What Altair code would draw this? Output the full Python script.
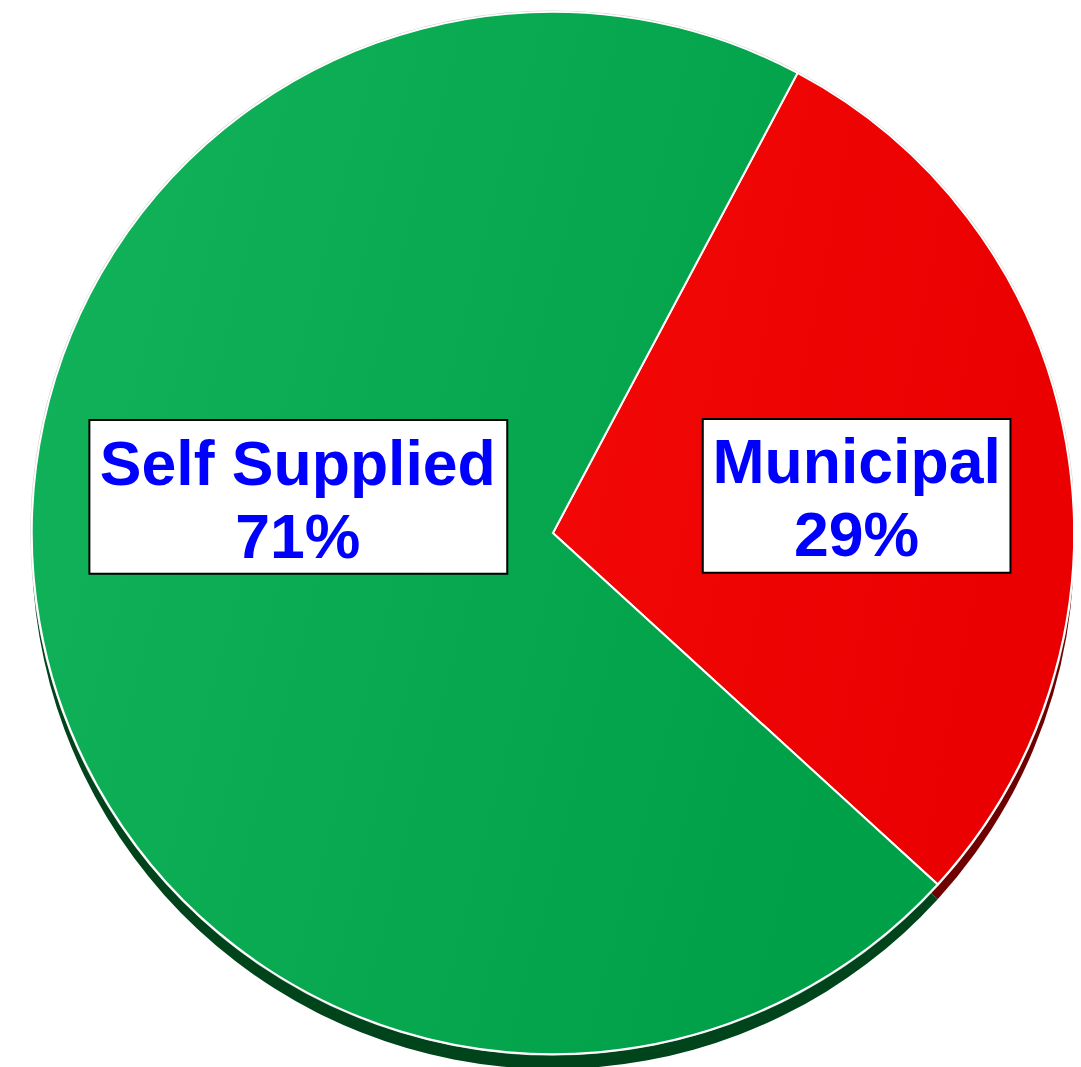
import math
import altair as alt
import pandas as pd

# ---- data ----
categories = ["Municipal", "Self Supplied"]
shares = [29, 71]
slice_order = [0, 1]

face_left = {"Municipal": "#f40808", "Self Supplied": "#12b35a"}
face_right = {"Municipal": "#ea0000", "Self Supplied": "#00a049"}
rim_colors = {"Municipal": "#700000", "Self Supplied": "#00441c"}

df = pd.DataFrame({"category": categories, "share": shares, "order": slice_order})

CX, CY, R = 549, 525, 525
START = math.radians(28)
theta_scale = alt.Scale(domain=[0, 1], range=[START, START + 2 * math.pi])

base = (
    alt.Chart(df)
    .transform_joinaggregate(total="sum(share)")
    .transform_window(cum="sum(share)", sort=[alt.SortField("order")], frame=[None, 0])
    .transform_calculate(
        t1="datum.cum / datum.total",
        t0="(datum.cum - datum.share) / datum.total",
        label="[datum.category, datum.share + '%']",
    )
)

def grad(c0, c1):
    return {
        "gradient": "linear", "x1": 0, "x2": 1, "y1": 0, "y2": 0.3,
        "stops": [{"offset": 0, "color": c0}, {"offset": 1, "color": c1}],
    }

layers = []
# 3D rim
for c in categories:
    layers.append(
        base.transform_filter(alt.datum.category == c)
        .mark_arc(radius=R, color=rim_colors[c])
        .encode(theta=alt.Theta("t0:Q", scale=theta_scale), theta2="t1:Q",
                x=alt.value(CX), y=alt.value(CY + 15))
    )
# outer gray outline
layers.append(
    base.transform_filter(alt.datum.order == 0)
    .mark_arc(radius=R + 1.5, theta=0, theta2=2 * math.pi, color="#cccccc")
    .encode(x=alt.value(CX), y=alt.value(CY))
)
# faces
for c in categories:
    layers.append(
        base.transform_filter(alt.datum.category == c)
        .mark_arc(radius=R, color=grad(face_left[c], face_right[c]),
                  stroke="white", strokeWidth=2)
        .encode(theta=alt.Theta("t0:Q", scale=theta_scale), theta2="t1:Q",
                x=alt.value(CX), y=alt.value(CY))
    )

# label boxes and text (page coords minus 8px margin)
boxes = {
    "Self Supplied": (82, 503, 411, 566, 292, 477),
    "Municipal": (700, 1010, 410, 565, 855, 475),
}
for c, (x0, x1, y0, y1, tx, ty) in boxes.items():
    sub = base.transform_filter(alt.datum.category == c)
    layers.append(
        sub.mark_rect(fill="white", stroke="black", strokeWidth=2)
        .encode(x=alt.value(x0), x2=alt.value(x1), y=alt.value(y0), y2=alt.value(y1))
    )
    layers.append(
        sub.mark_text(font="Liberation Sans", fontWeight="bold", fontSize=63,
                      color="#0000ff", align="center", baseline="alphabetic",
                      lineHeight=73)
        .encode(text="label:N", x=alt.value(tx), y=alt.value(ty))
    )

chart = (
    alt.layer(*layers)
    .properties(width=1073, height=1059, autosize=alt.AutoSizeParams(type="none"), padding=0)
    .configure_view(stroke=None)
)

chart.save("out.html", embed_options={"renderer": "svg", "actions": False})
